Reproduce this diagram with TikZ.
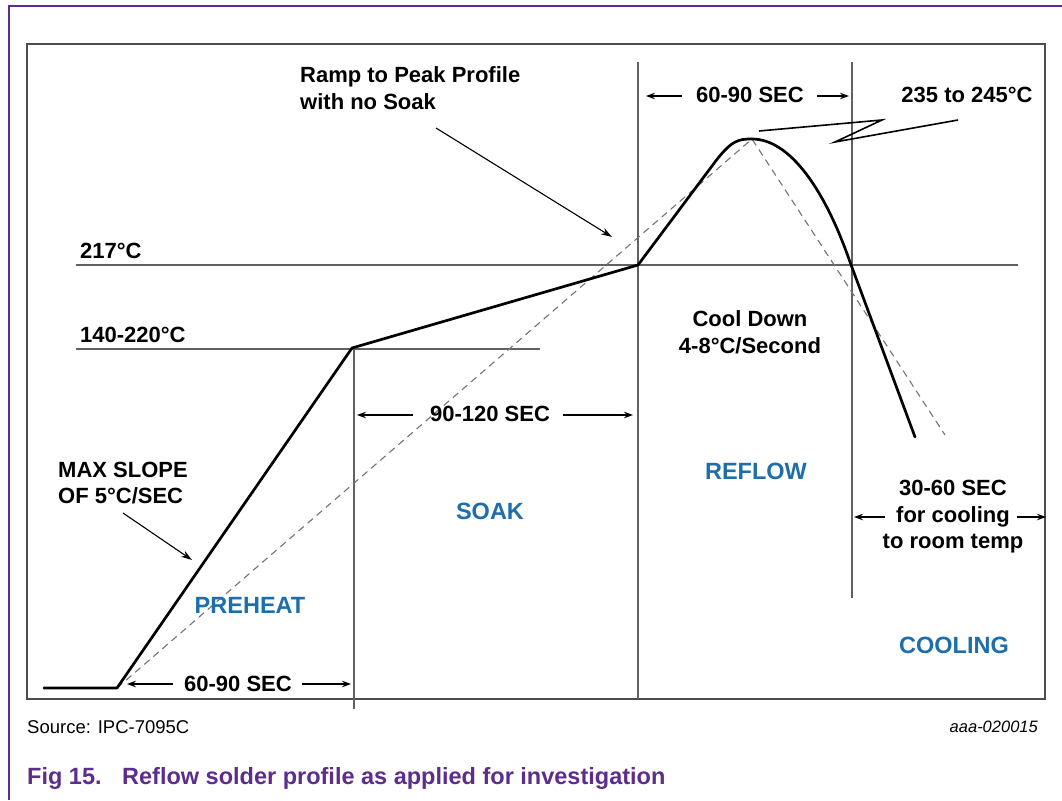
\documentclass[tikz,border=0pt]{standalone}
\usepackage{fontspec}
\setmainfont{Liberation Sans}
\usetikzlibrary{arrows.meta}
\definecolor{docpurple}{RGB}{92,45,140}
\definecolor{zoneblue}{RGB}{30,110,172}
\begin{document}
\begin{tikzpicture}[x=1pt,y=-1pt,
  lbl/.style={font=\fontsize{22}{26.5}\selectfont\bfseries, inner sep=0pt, align=center},
  zone/.style={font=\fontsize{23.5}{28}\selectfont\bfseries, text=zoneblue, inner sep=0pt},
  guide/.style={draw=black!62, line width=1.1pt},
  profile/.style={line width=2.7pt, line join=round, line cap=round},
  ramp/.style={draw=black!55, line width=1.1pt, dash pattern=on 7pt off 5pt},
  dim/.style={line width=1.1pt, -{Stealth[length=9pt,width=6.5pt]}},
  pointer/.style={line width=1.1pt, -{Stealth[length=11pt,width=7pt]}},
  caption/.style={font=\fontsize{23.5}{28}\selectfont\bfseries, text=docpurple, anchor=west, inner sep=0pt},
  ]
\useasboundingbox (0,0) rectangle (1062,800);

% page frame (open to the right and bottom)
\draw[docpurple, line width=1.5pt] (1062,6) -- (9,6) -- (9,800);

% plot frame
\draw[draw=black!70, line width=1.7pt] (27,44) rectangle (1045,699);

% zone dividers and temperature levels
\draw[guide] (638,62) -- (638,699);
\draw[guide] (852,62) -- (852,598);
\draw[guide] (354,348) -- (354,709);
\draw[guide] (76,265) -- (1018,265);
\draw[guide] (76,349) -- (540,349);

% profile points
\coordinate (p0) at (44,688);
\coordinate (p1) at (117,688);
\coordinate (p2) at (352,348);
\coordinate (p3) at (638,265);
\coordinate (p4) at (712,166);
\coordinate (pk) at (752,139);
\coordinate (p5) at (850,262);
\coordinate (p6) at (915,437);
\coordinate (d1) at (945,435);

% ramp-to-peak profile (dashed)
\draw[ramp] (p1) -- (pk) -- (d1);

% soak profile (solid)
\draw[profile] (p0) -- (p1) -- (p2) -- (p3) -- (p4)
  .. controls (731,140) and (738,139) .. (pk)
  .. controls (790,139) and (825,190) .. (p5) -- (p6);

% peak temperature callout
\coordinate (z0) at (759,131);
\coordinate (z1) at (882,120);
\coordinate (z2) at (835,142);
\coordinate (z3) at (958,120);
\draw[line width=1.6pt, line join=miter] (z0) -- (z1) -- (z2) -- (z3);
\node[lbl] (peak) at (967,95) {235 to 245°C};

% text labels
\node[lbl, align=left, anchor=west] (rampnote) at (300,88) {Ramp to Peak Profile\\with no Soak};
\coordinate (rampTail) at (436,128);
\coordinate (rampHead) at (612,237);
\draw[pointer] (rampTail) -- (rampHead);

\node[lbl, anchor=west] (t217) at (80,251) {217°C};
\node[lbl, anchor=west] (t140) at (80,335) {140-220°C};

\node[lbl] (reflowtime) at (750,95) {60-90 SEC};
\coordinate (rt1) at (682,96);
\coordinate (rt2) at (646,96);
\coordinate (rt3) at (817,96);
\coordinate (rt4) at (849,96);
\draw[dim] (rt1) -- (rt2);
\draw[dim] (rt3) -- (rt4);

\node[lbl] (cool) at (750,332) {Cool Down\\4-8°C/Second};

\node[lbl] (soaktime) at (490,414) {90-120 SEC};
\coordinate (st1) at (413,415);
\coordinate (st2) at (357,415);
\coordinate (st3) at (563,415);
\coordinate (st4) at (633,415);
\draw[dim] (st1) -- (st2);
\draw[dim] (st3) -- (st4);

\node[lbl, align=left, anchor=west] (slope) at (58,483) {MAX SLOPE\\OF 5°C/SEC};
\coordinate (slTail) at (123,513);
\coordinate (slHead) at (192,560);
\draw[pointer] (slTail) -- (slHead);

\node[lbl] (pretime) at (238,684) {60-90 SEC};
\coordinate (pt1) at (173,684);
\coordinate (pt2) at (127,684);
\coordinate (pt3) at (302,684);
\coordinate (pt4) at (351,684);
\draw[dim] (pt1) -- (pt2);
\draw[dim] (pt3) -- (pt4);

\node[lbl] (cooltime) at (953,517) {30-60 SEC\\for cooling\\to room temp};
\coordinate (ct1) at (885,517);
\coordinate (ct2) at (854,517);
\coordinate (ct3) at (1017,517);
\coordinate (ct4) at (1046,517);
\draw[dim] (ct1) -- (ct2);
\draw[dim] (ct3) -- (ct4);

% zone names
\node[zone] (zreflow) at (756,471) {REFLOW};
\node[zone] (zsoak) at (490,511) {SOAK};
\node[zone] (zpre) at (250,605) {PREHEAT};
\node[zone] (zcool) at (954,645) {COOLING};

% source line and figure id
\node[font=\fontsize{18.5}{22}\selectfont, anchor=west, inner sep=0pt] (source) at (27,727) {Source: IPC-7095C};
\node[font=\fontsize{16.5}{20}\selectfont\itshape, anchor=east, inner sep=0pt] (figid) at (1038,727) {aaa-020015};

% caption
\node[caption] (fignum) at (27,778) {Fig 15.};
\node[caption] (figtitle) at (122,778) {Reflow solder profile as applied for investigation};
\end{tikzpicture}
\end{document}
